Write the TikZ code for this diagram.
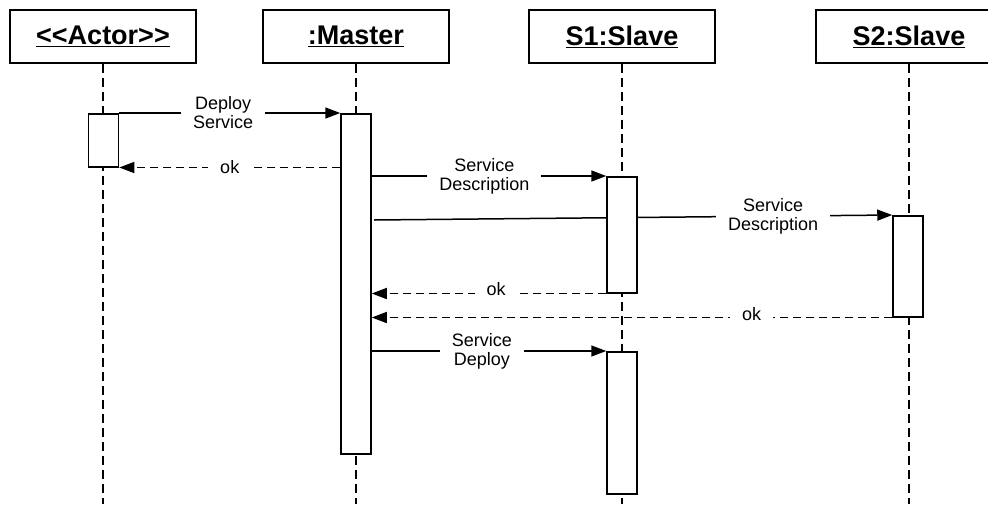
\documentclass[tikz,border=0pt]{standalone}
\usepackage{fontspec}
\setmainfont{Liberation Sans}
\usetikzlibrary{arrows.meta,calc}
\begin{document}
\begin{tikzpicture}[x=1pt,y=-1pt,line width=1.5pt,
  head/.style={draw,fill=white,minimum width=186pt,minimum height=53pt,inner sep=0pt,
    font=\fontsize{27}{31}\selectfont\bfseries},
  act/.style={draw,fill=white,minimum width=30pt,inner sep=0pt,anchor=north},
  life/.style={line width=1.2pt,dash pattern=on 9pt off 5pt},
  msg/.style={-{Triangle[length=15pt,width=11pt]}},
  ret/.style={msg,dash pattern=on 8pt off 5pt},
  lbl/.style={fill=white,inner xsep=12pt,inner ysep=1pt,align=center,
    font=\fontsize{18}{19}\selectfont}]
\clip (0,0) rectangle (988,504);
\fill[white] (0,0) rectangle (988,504);

% lifeline heads (kerns keep the angle brackets from joining into guillemets)
\node[head] (actor)  at (103,36.5) {\underline{<\kern0pt<Actor>\kern0pt>}};
\node[head] (master) at (356,36.5) {\underline{:Master}};
\node[head] (s1)     at (622,36.5) {\underline{S1:Slave}};
\node[head] (s2)     at (909,36.5) {\underline{S2:Slave}};

% lifelines
\coordinate (bot) at (0,504);
\foreach \n in {actor,master,s1,s2}
  \draw[life] (\n.south) -- (\n.south |- bot);

% activation bars
\node[act,minimum height=53pt]  (aA)   at (103.5,113) {};
\node[act,minimum height=340pt] (aM)   at (356,113) {};
\node[act,minimum height=116pt] (aS1)  at (622,176) {};
\node[act,minimum height=101pt] (aS2)  at (908,215) {};
\node[act,minimum height=142pt] (aS1b) at (622,351) {};

% messages
\coordinate (sd2) at (374,220);
\draw[msg] (aA.north east) -- node[lbl,pos=0.47] {Deploy\\Service} (aM.north west);
\draw[ret] (aM.west |- aA.south) -- node[lbl,pos=0.5] {ok} (aA.south east);
\draw[msg] (aM.east |- aS1.north) -- node[lbl,pos=0.48] {Service\\Description} (aS1.north west);
\draw[msg] (sd2) -- node[lbl,pos=0.77] {Service\\Description} (aS2.north west);
\draw[ret] (aS1.south west) -- node[lbl,pos=0.47,yshift=4pt] {ok} (aM.east |- aS1.south);
\draw[ret] (aS2.south west) -- node[lbl,pos=0.27,yshift=3pt] {ok} (aM.east |- aS2.south);
\draw[msg] (aM.east |- aS1b.north) -- node[lbl,pos=0.47] {Service\\Deploy} (aS1b.north west);

% redraw the bar that the long message passes behind
\node[act,minimum height=116pt] at (622,176) {};
\end{tikzpicture}
\end{document}
